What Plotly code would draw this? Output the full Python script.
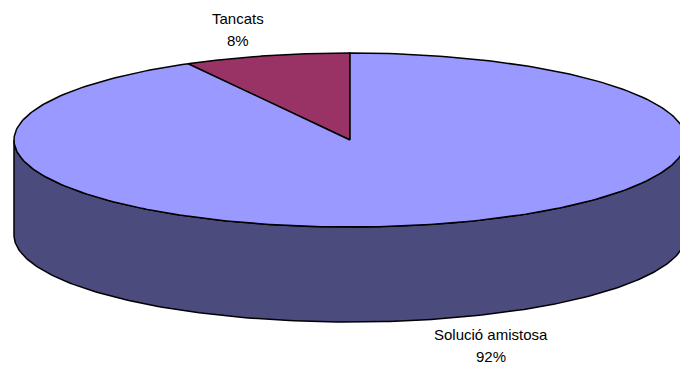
import numpy as np
import plotly.graph_objects as go

categories = ["Tancats", "Solució amistosa"]
values = [8, 92]
top_colors = ["#993366", "#9999FF"]
side_colors = ["#4D1A33", "#4B4B7D"]

# geometry (pixels, y down)
cx, cy = 350, 140
rx, ry = 336, 87
depth = 95
start_angle = 90.0  # degrees, first slice starts at 12 o'clock going counter-clockwise

def ell(theta_deg, dy=0):
    t = np.radians(theta_deg)
    return cx + rx * np.cos(t), cy - ry * np.sin(t) + dy

fig = go.Figure()

total = sum(values)
angles = []
a = start_angle
for v in values:
    span = 360.0 * v / total
    angles.append((a, a + span))
    a += span

# side wall (front half: 180..360 deg), clipped to each slice's range
for (a0, a1), col in zip(angles, side_colors):
    lo, hi = max(a0, 180), min(a1, 360)
    segs = []
    if lo < hi:
        segs.append((lo, hi))
    # also consider wrap (angles beyond 360)
    lo2, hi2 = max(a0, 540), min(a1, 720)
    if lo2 < hi2:
        segs.append((lo2, hi2))
    for s0, s1 in segs:
        th = np.linspace(s0, s1, 200)
        xt, yt = ell(th)
        xb, yb = ell(th[::-1], depth)
        xs = np.concatenate([xt, xb, xt[:1]])
        ys = np.concatenate([yt, yb, yt[:1]])
        fig.add_trace(go.Scatter(x=xs, y=ys, mode="lines", fill="toself",
                                 fillcolor=col, line=dict(color="black", width=1.5),
                                 hoverinfo="skip"))

# top faces
for (a0, a1), col in zip(angles, top_colors):
    th = np.linspace(a0, a1, 300)
    xt, yt = ell(th)
    xs = np.concatenate([[cx], xt, [cx]])
    ys = np.concatenate([[cy], yt, [cy]])
    fig.add_trace(go.Scatter(x=xs, y=ys, mode="lines", fill="toself",
                             fillcolor=col, line=dict(color="black", width=1.5),
                             hoverinfo="skip"))

label_pos = [(238, 18), (491, 334)]
font = dict(family="Liberation Sans, Arial", size=15, color="#000000")
for name, v, (lx, ly) in zip(categories, values, label_pos):
    fig.add_annotation(x=lx, y=ly, text=name, showarrow=False, font=font,
                       xanchor="center", yanchor="middle")
    fig.add_annotation(x=lx, y=ly + 22, text=f"{v}%", showarrow=False, font=font,
                       xanchor="center", yanchor="middle")

fig.update_layout(
    width=680, height=369,
    margin=dict(l=0, r=0, t=0, b=0),
    paper_bgcolor="white", plot_bgcolor="white",
    showlegend=False,
    xaxis=dict(range=[0, 680], visible=False, fixedrange=True),
    yaxis=dict(range=[369, 0], visible=False, fixedrange=True),
)
fig.write_html("out.html")
